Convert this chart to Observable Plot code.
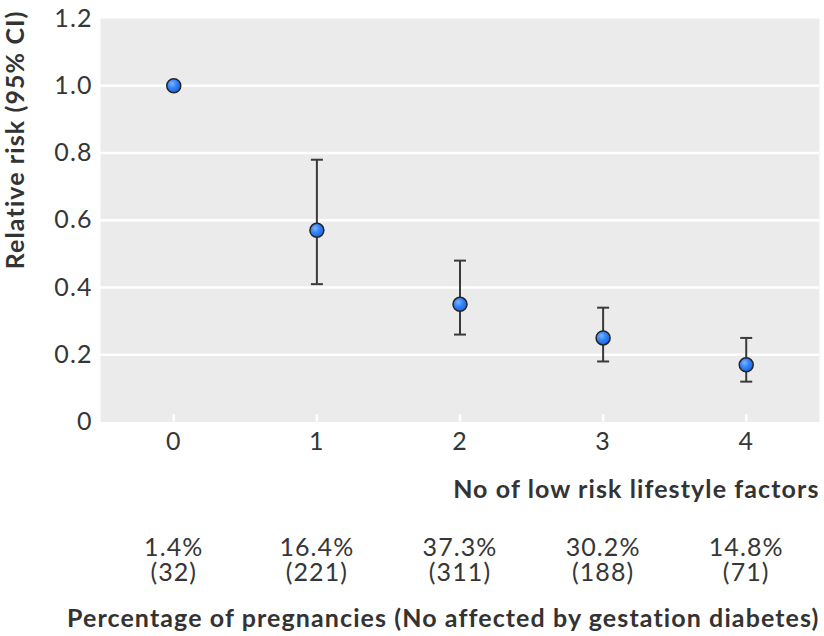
<!DOCTYPE html>
<html>
<head>
<meta charset="utf-8">
<script src="https://cdn.jsdelivr.net/npm/d3@7"></script>
<script src="https://cdn.jsdelivr.net/npm/@observablehq/plot@0.6"></script>
<style>
  html, body { margin: 0; padding: 0; background: #fff; }
  #chart svg { display: block; }
  #chart svg text { letter-spacing: 1.1px; }
</style>
</head>
<body>
<div id="chart"></div>
<script>
// ---- data ----
const factors = [0, 1, 2, 3, 4];
const relRisk = [1.0, 0.57, 0.35, 0.25, 0.17];
const ciLower = [null, 0.41, 0.26, 0.18, 0.12];
const ciUpper = [null, 0.78, 0.48, 0.34, 0.25];
const pctPregnancies = ["1.4%", "16.4%", "37.3%", "30.2%", "14.8%"];
const nAffected = [32, 221, 311, 188, 71];
const yTicks = [0, 0.2, 0.4, 0.6, 0.8, 1.0, 1.2];
const yTitle = "Relative risk (95% CI)";
const xTitle = "No of low risk lifestyle factors";
const bottomTitle = "Percentage of pregnancies (No affected by gestation diabetes)";

const points = factors.map((k, i) => ({k, rr: relRisk[i], lo: ciLower[i], hi: ciUpper[i]}));
const ci = points.filter(d => d.lo != null);

const capSymbol = {
  draw(context, size) {
    const r = Math.sqrt(size / Math.PI);
    context.moveTo(-r, 0);
    context.lineTo(r, 0);
  }
};

const textColor = "#363636";
const barColor = "#3a3a3a";

const chart = Plot.plot({
  width: 824,
  height: 636,
  marginLeft: 100,
  marginRight: 5,
  marginTop: 18,
  marginBottom: 214.5,
  style: {fontFamily: "Lato, 'Noto Sans', sans-serif", fontSize: "25px", color: textColor, background: "white"},
  x: {type: "linear", domain: [-0.512, 4.512]},
  y: {domain: [0, 1.2]},
  marks: [
    Plot.frame({fill: "#ebebeb", stroke: "none"}),
    Plot.gridY(yTicks.filter(d => d > 0 && d < 1.2), {stroke: "white", strokeOpacity: 1, strokeWidth: 2.6}),
    Plot.axisY(yTicks, {tickSize: 0, tickPadding: 8, label: null, tickFormat: d => d === 0 ? "0" : d.toFixed(1)}),
    Plot.axisX(factors, {tickSize: 7, dy: -7, stroke: "white", strokeWidth: 2.6, tickFormat: () => "", label: null}),
    Plot.axisX(factors, {tickSize: 0, tickPadding: 10, label: null, tickFormat: d => String(d)}),
    Plot.axisX(factors, {tickSize: 0, tickPadding: 116.5, label: null, lineHeight: 1,
      tickFormat: d => pctPregnancies[d] + "\n(" + nAffected[d] + ")"}),
    Plot.ruleX(ci, {x: "k", y1: "lo", y2: "hi", stroke: barColor, strokeWidth: 2}),
    Plot.dot(ci, {x: "k", y: "lo", symbol: capSymbol, r: 6, stroke: barColor, strokeWidth: 2, fill: "none"}),
    Plot.dot(ci, {x: "k", y: "hi", symbol: capSymbol, r: 6, stroke: barColor, strokeWidth: 2, fill: "none"}),
    Plot.dot(points, {x: "k", y: "rr", r: 7, fill: "url(#ptGrad)", stroke: "#262626", strokeWidth: 1.5}),
    Plot.text([yTitle], {frameAnchor: "top-left", text: d => d, rotate: -90, textAnchor: "end", lineAnchor: "middle",
      dx: -84.5, dy: -8, fontWeight: "bold", fill: "#333"}),
    Plot.text([xTitle], {frameAnchor: "bottom-right", text: d => d, textAnchor: "end", lineAnchor: "middle",
      dx: 0, dy: 68, fontWeight: "bold", fill: "#333"}),
    Plot.text([bottomTitle], {frameAnchor: "bottom-right", text: d => d, textAnchor: "end", lineAnchor: "middle",
      dx: 0, dy: 196.5, fontWeight: "bold", fill: "#333"})
  ]
});

// radial gradient for the point markers
const ns = "http://www.w3.org/2000/svg";
const defs = document.createElementNS(ns, "defs");
const grad = document.createElementNS(ns, "radialGradient");
grad.setAttribute("id", "ptGrad");
grad.setAttribute("cx", "0.38");
grad.setAttribute("cy", "0.35");
grad.setAttribute("r", "0.7");
[["0%", "#7db4ff"], ["45%", "#3585fb"], ["100%", "#1c5fd8"]].forEach(([o, c]) => {
  const s = document.createElementNS(ns, "stop");
  s.setAttribute("offset", o);
  s.setAttribute("stop-color", c);
  grad.appendChild(s);
});
defs.appendChild(grad);
chart.insertBefore(defs, chart.firstChild);

document.getElementById("chart").appendChild(chart);
</script>
</body>
</html>
